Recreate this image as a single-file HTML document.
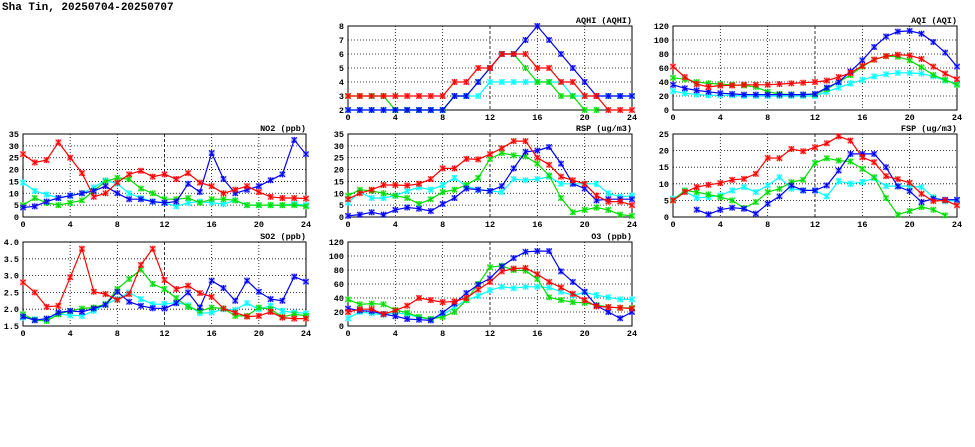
<!DOCTYPE html>
<html><head><meta charset="utf-8"><style>
html,body{margin:0;padding:0;background:#fff;}
svg{display:block;font-family:"Liberation Mono","DejaVu Sans Mono",monospace;}
</style></head><body>
<svg id="chart" width="975" height="447" viewBox="0 0 975 447">
<text x="2" y="10" font-size="11" font-weight="bold">Sha Tin, 20250704-20250707</text>
</svg>
<script>
const hours = [0,1,2,3,4,5,6,7,8,9,10,11,12,13,14,15,16,17,18,19,20,21,22,23,24];
const xTicks = [0,4,8,12,16,20,24];
const seriesNames = ['cyan','green','blue','red'];
const seriesColors = {red:'#ff0000',green:'#00dd00',blue:'#0000ff',cyan:'#00ffff'};
const n = null;

const aqhiRed   = [3,3,3,3,3,3,3,3,3,4,4,5,5,6,6,6,5,5,4,4,3,3,2,2,2];
const aqhiGreen = [3,3,3,3,2,2,2,2,2,3,3,4,5,6,6,5,4,4,3,3,2,2,n,n,n];
const aqhiBlue  = [2,2,2,2,2,2,2,2,2,3,3,4,5,6,6,7,8,7,6,5,4,3,3,3,3];
const aqhiCyan  = [2,2,2,2,2,2,2,2,2,3,3,3,4,4,4,4,4,4,4,3,3,3,3,3,3];
const aqhiTicks = [2,3,4,5,6,7,8];

const aqiRed   = [62,47,37,33,35,35,36,36,36,37,38,39,40,42,47,53,63,72,77,79,78,73,62,52,44];
const aqiGreen = [46,44,40,38,37,36,35,33,26,23,22,22,22,30,40,50,62,72,77,76,71,61,50,43,36];
const aqiBlue  = [36,31,28,26,24,23,22,22,22,22,22,22,23,32,40,55,71,90,105,112,113,109,97,82,62];
const aqiCyan  = [27,24,22,21,21,21,20,20,20,20,20,20,20,26,32,38,43,48,51,53,53,52,48,42,38];
const aqiTicks = [0,20,40,60,80,100,120];

const no2Red   = [26.5,23,24,31.5,25,18.5,8.5,10,14.5,18,19.5,17,18,16,18.5,14.5,13,10,11.5,13,10.5,8.5,8,8,7.8];
const no2Green = [5,8,6,5,6,7,11,15,16.5,16,12,10,7.5,7.5,8,6,7.5,7.5,7,5,5,5,5,5,4.5];
const no2Blue  = [4,4.5,6.5,8,9,10,11,13,10,7.5,7.5,6.5,6,6.5,14,10.5,27,16,10,11.5,13,15.5,18,32.5,26.5];
const no2Cyan  = [14.5,11,9.5,8,9,10,12.5,15.5,14,10,8,6.5,6,4.5,6,6.5,6,5.5,7,5,5,5,5,5.5,5];
const no2Ticks = [0,5,10,15,20,25,30,35];

const rspRed   = [7.5,10,11.5,13.5,13.5,13.3,14,16,20.5,20.5,24.5,24.3,26.5,29,32,32,25,22,17,15.5,14,9,6.5,6.5,5];
const rspGreen = [9,11.5,11,10,9,8,5.5,7.5,10.5,11.5,13.5,16.5,24.5,27,26,25.5,22.5,17.5,8,2,3,4,3,1,0.5];
const rspBlue  = [0.5,1,2,1,3,4,3.5,2.5,5.5,8,12,11.5,11,13,20.5,27.5,28,29.5,22.5,14,12,7,7.5,7.5,7.5];
const rspCyan  = [6,10.5,8,8,9,11,12.5,11.5,13.5,16.5,13,11.5,11,10.5,16,15.5,16,17,14,14,14,14,10,8.5,9];
const rspTicks = [0,5,10,15,20,25,30,35];

const fspRed   = [5,7.5,9,9.7,10.2,11.2,11.5,13,17.8,17.7,20.5,19.8,21,22.2,24.3,23,18,16.5,12.3,11.4,10.3,7,4.8,5,3.5];
const fspGreen = [5,8,7.5,6.8,6,5,2.7,4.5,7.5,8.5,10.5,11.2,16.3,17.7,17,16.7,14.5,12,5.7,0.7,1.8,3,2.2,0.5,n];
const fspBlue  = [n,n,2.2,0.8,2.2,2.8,2.5,1,4,6.2,9.5,8,8,9.5,14,19,19,19,15,9.2,7.8,4.5,5.5,5.2,5.2];
const fspCyan  = [5.5,7.7,5.8,6,6.5,8,9,7.5,9.5,12,8.5,8,8,6.2,10.8,10,10.5,11.7,9.3,9.3,9.3,9,6,4.7,5];
const fspTicks = [0,5,10,15,20,25];

const so2Red   = [2.8,2.5,2.07,2.1,2.95,3.8,2.52,2.45,2.28,2.45,3.32,3.8,2.87,2.6,2.7,2.48,2.37,2.02,1.9,1.78,1.8,1.92,1.75,1.72,1.72];
const so2Green = [1.85,1.68,1.65,1.85,1.95,2.02,2.05,2.15,2.6,2.9,3.18,2.75,2.6,2.33,2.07,1.95,2.05,2.02,1.8,1.8,2.05,2.0,1.77,1.85,1.8];
const so2Blue  = [1.78,1.67,1.72,1.9,1.95,1.92,2.02,2.13,2.52,2.22,2.1,2.03,2.02,2.18,2.5,2.05,2.85,2.63,2.25,2.85,2.52,2.3,2.25,2.97,2.82];
const so2Cyan  = [1.75,1.7,1.7,1.85,1.82,1.8,1.95,2.15,2.3,2.5,2.3,2.15,2.15,2.2,2.12,1.88,1.9,2.0,1.98,2.18,2.0,2.1,1.95,1.9,1.88];
const so2Ticks = [1.5,2.0,2.5,3.0,3.5,4.0];

const o3Red   = [20,24,24,17,22,29,40,37,34,35,40,52,63,78,82,83,74,63,55,46,37,28,27,26,25];
const o3Green = [38,31,32,31,23,19,13,10,13,20,37,60,84,86,80,79,67,41,37,34,33,30,27,26,26];
const o3Blue  = [25,22,21,17,14,10,9,8,19,32,47,59,68,85,97,106,107,107,78,63,49,29,20,11,20];
const o3Cyan  = [11,20,18,16,19,17,12,10,16,27,37,43,51,56,54,56,56,55,49,44,48,44,41,38,38];
const o3Ticks = [0,20,40,60,80,100,120];

const panels = [
 {name:'aqhi',title:'AQHI (AQHI)',x0:348,x1:632,y0:26,y1:110,ticks:aqhiTicks,dec:0,data:{red:aqhiRed,green:aqhiGreen,blue:aqhiBlue,cyan:aqhiCyan}},
 {name:'aqi',title:'AQI (AQI)',x0:673,x1:957,y0:26,y1:110,ticks:aqiTicks,dec:0,data:{red:aqiRed,green:aqiGreen,blue:aqiBlue,cyan:aqiCyan}},
 {name:'no2',title:'NO2 (ppb)',x0:23,x1:306,y0:134,y1:217,ticks:no2Ticks,dec:0,data:{red:no2Red,green:no2Green,blue:no2Blue,cyan:no2Cyan}},
 {name:'rsp',title:'RSP (ug/m3)',x0:348,x1:632,y0:134,y1:217,ticks:rspTicks,dec:0,data:{red:rspRed,green:rspGreen,blue:rspBlue,cyan:rspCyan}},
 {name:'fsp',title:'FSP (ug/m3)',x0:673,x1:957,y0:134,y1:217,ticks:fspTicks,dec:0,data:{red:fspRed,green:fspGreen,blue:fspBlue,cyan:fspCyan}},
 {name:'so2',title:'SO2 (ppb)',x0:23,x1:306,y0:242,y1:326,ticks:so2Ticks,dec:1,data:{red:so2Red,green:so2Green,blue:so2Blue,cyan:so2Cyan}},
 {name:'o3',title:'O3 (ppb)',x0:348,x1:632,y0:242,y1:326,ticks:o3Ticks,dec:0,data:{red:o3Red,green:o3Green,blue:o3Blue,cyan:o3Cyan}}
];
const NS='http://www.w3.org/2000/svg';
const svg=document.getElementById('chart');
function mk(tag,attrs,parent){const e=document.createElementNS(NS,tag);for(const k in attrs)e.setAttribute(k,attrs[k]);parent.appendChild(e);return e;}
panels.forEach(p=>{
  const g=mk('g',{},svg);
  
  
  const ymin=p.ticks[0], ymax=p.ticks[p.ticks.length-1];
  const xs=h=>p.x0+(h-0)/24*(p.x1-p.x0);
  const ys=v=>p.y1-(v-ymin)/(ymax-ymin)*(p.y1-p.y0);
  xTicks.forEach(t=>{
    if(t>0&&t<24){const l=mk('line',{x1:xs(t),x2:xs(t),y1:p.y0,y2:p.y1,stroke:'#000','stroke-width':0.8,'stroke-dasharray':t===12?'3,2':'1,2'},g);
      
      }
    const tx=mk('text',{x:xs(t),y:p.y1+10,'font-size':8.5,'font-weight':'bold','text-anchor':'middle'},g);
    tx.textContent=t;
    
    
  });
  p.ticks.forEach(t=>{
    if(t>ymin&&t<ymax){const l=mk('line',{x1:p.x0,x2:p.x1,y1:ys(t),y2:ys(t),stroke:'#000','stroke-width':0.8,'stroke-dasharray':'1,2'},g);
      
      }
    const tx=mk('text',{x:p.x0-4,y:ys(t)+3,'font-size':8.5,'font-weight':'bold','text-anchor':'end'},g);
    tx.textContent=t.toFixed(p.dec);
    
    
  });
  const fr=mk('rect',{x:p.x0,y:p.y0,width:p.x1-p.x0,height:p.y1-p.y0,fill:'none',stroke:'#000','stroke-width':1},g);
  
  
  const tt=mk('text',{x:p.x1,y:p.y0-3,'font-size':8.5,'font-weight':'bold','text-anchor':'end'},g);
  tt.textContent=p.title;
  
  
  seriesNames.forEach(s=>{
    const vals=p.data[s], col=seriesColors[s];
    const sg=mk('g',{},g);
    
    
    let d='',pen=false;
    vals.forEach((v,i)=>{if(v===null){pen=false;return;}d+=(pen?'L':'M')+xs(hours[i]).toFixed(1)+','+ys(v).toFixed(1);pen=true;});
    const ln=mk('path',{d:d,fill:'none',stroke:col,'stroke-width':1.2},sg);
    
    
    vals.forEach((v,i)=>{if(v===null)return;const cx=xs(hours[i]),cy=ys(v);
      const m=mk('g',{},sg);
      
      
      mk('rect',{x:cx-3,y:cy-3,width:6,height:6,fill:col,opacity:0.3},m);
      mk('path',{d:`M${cx-2.6},${cy-2.6}L${cx+2.6},${cy+2.6}M${cx-2.6},${cy+2.6}L${cx+2.6},${cy-2.6}M${cx},${cy-3}L${cx},${cy+3}`,stroke:col,'stroke-width':1},m);
    });
  });
});
</script>
</body></html>
